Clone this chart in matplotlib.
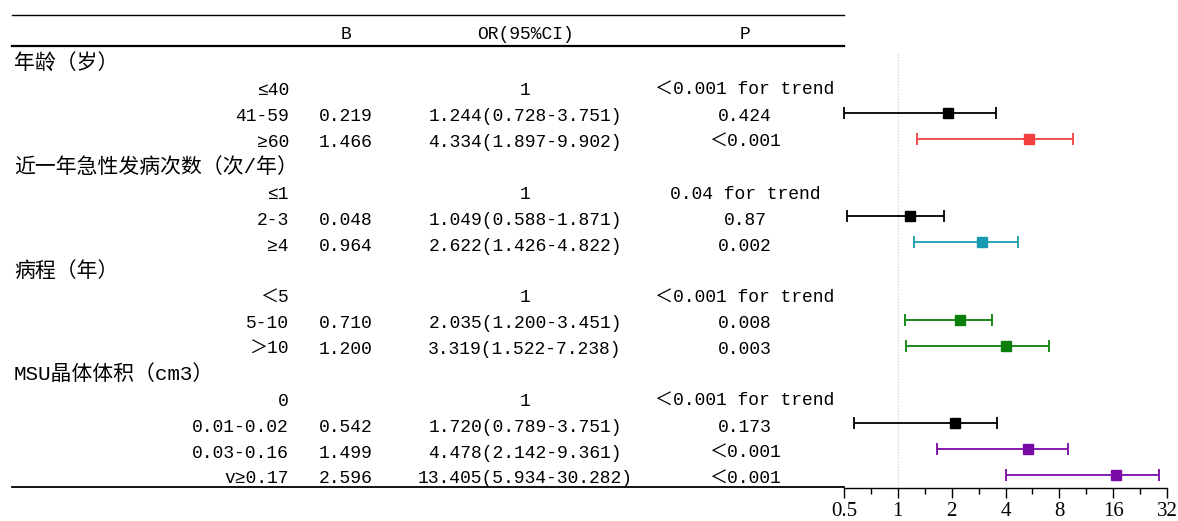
import matplotlib.pyplot as plt
from matplotlib.lines import Line2D
from matplotlib.ticker import FixedLocator, FixedFormatter, NullFormatter
import matplotlib.transforms as mtransforms

plt.rcParams['font.family'] = ['Liberation Mono', 'Noto Sans CJK SC', 'DejaVu Sans']

# table rows (group headers have no values)
labels = ["年龄（岁）", "≤40", "41-59", "≥60",
          "近一年急性发病次数（次/年）", "≤1", "2-3", "≥4",
          "病程（年）", "＜5", "5-10", "＞10",
          "MSU晶体体积（cm3）", "0", "0.01-0.02", "0.03-0.16", "v≥0.17"]
is_group = [True, False, False, False,
            True, False, False, False,
            True, False, False, False,
            True, False, False, False, False]
b_vals = ["", "", "0.219", "1.466",
          "", "", "0.048", "0.964",
          "", "", "0.710", "1.200",
          "", "", "0.542", "1.499", "2.596"]
or_vals = ["", "1", "1.244(0.728-3.751)", "4.334(1.897-9.902)",
           "", "1", "1.049(0.588-1.871)", "2.622(1.426-4.822)",
           "", "1", "2.035(1.200-3.451)", "3.319(1.522-7.238)",
           "", "1", "1.720(0.789-3.751)", "4.478(2.142-9.361)", "13.405(5.934-30.282)"]
p_vals = ["", "＜0.001 for trend", "0.424", "＜0.001",
          "", "0.04 for trend", "0.87", "0.002",
          "", "＜0.001 for trend", "0.008", "0.003",
          "", "＜0.001 for trend", "0.173", "＜0.001", "＜0.001"]

# forest plot values as drawn (row index, estimate, lower, upper, colour)
plot_rows = [2, 3, 6, 7, 10, 11, 14, 15, 16]
plot_est = [1.91, 5.38, 1.17, 2.96, 2.23, 4.02, 2.08, 5.33, 16.5]
plot_lo = [0.50, 1.28, 0.52, 1.23, 1.09, 1.11, 0.57, 1.65, 4.05]
plot_hi = [3.53, 9.48, 1.82, 4.67, 3.35, 6.96, 3.59, 9.00, 28.9]
plot_colors = ["black", "#f24040", "black", "#1a9ab0", "#0a800a", "#0a800a",
               "black", "#7a0aa6", "#7a0aa6"]

W, H = 1178, 521
fig = plt.figure(figsize=(W / 100, H / 100), dpi=100)
ax = fig.add_axes([844 / W, (H - 488) / H, 323 / W, (488 - 53) / H])

ax.set_xscale('log', base=2)
ax.set_xlim(0.5, 32)
ax.set_ylim(16.5, -0.31)

ax.axvline(1, color='#c8c8c8', lw=0.8, ls=':', zorder=0)
for r, e, lo, hi, c in zip(plot_rows, plot_est, plot_lo, plot_hi, plot_colors):
    ax.errorbar(e, r, xerr=[[e - lo], [hi - e]], fmt='s', color=c, ms=7.5,
                capsize=4, elinewidth=1.3, capthick=1.3, clip_on=False)

for s in ['top', 'right', 'left']:
    ax.spines[s].set_visible(False)
ax.spines['bottom'].set_linewidth(1.0)
ax.set_yticks([])
ticks = [0.5, 1, 2, 4, 8, 16, 32]
ax.xaxis.set_major_locator(FixedLocator(ticks))
ax.xaxis.set_major_formatter(FixedFormatter(["0.5", "1", "2", "4", "8", "16", "32"]))
ax.xaxis.set_minor_locator(FixedLocator([t * 2 ** 0.5 for t in ticks[:-1]]))
ax.xaxis.set_minor_formatter(NullFormatter())
ax.tick_params(axis='x', which='major', length=7, width=1, labelsize=15, pad=3)
ax.tick_params(axis='x', which='minor', length=4, width=1)
for lab in ax.get_xticklabels():
    lab.set_family(['Liberation Serif', 'Noto Sans CJK SC'])

# table text: x in figure pixels, y in row units
trans = mtransforms.blended_transform_factory(fig.transFigure, ax.transData)
fs = 13
dy = 0.15
def fx(px):
    return px / W

for i, lab in enumerate(labels):
    y = i + dy
    if is_group[i]:
        fig.text(fx(14), y - 0.05, lab, transform=trans, ha='left', va='center', fontsize=15)
    else:
        fig.text(fx(289), y, lab, transform=trans, ha='right', va='center', fontsize=fs)
    fig.text(fx(346), y, b_vals[i], transform=trans, ha='center', va='center', fontsize=fs)
    fig.text(fx(525), y, or_vals[i], transform=trans, ha='center', va='center', fontsize=fs)
    fig.text(fx(745), y, p_vals[i], transform=trans, ha='center', va='center', fontsize=fs)

hy = -1.16 + dy
fig.text(fx(346), hy, "B", transform=trans, ha='center', va='center', fontsize=fs)
fig.text(fx(525), hy, "OR(95%CI)", transform=trans, ha='center', va='center', fontsize=fs)
fig.text(fx(745), hy, "P", transform=trans, ha='center', va='center', fontsize=fs)

for y, lw in [(15, 1.0), (46, 1.6), (487, 1.3)]:
    fig.add_artist(Line2D([fx(12), fx(844)], [1 - y / H, 1 - y / H],
                          transform=fig.transFigure, color='black', lw=lw))

fig.savefig("out.png", dpi=100)
